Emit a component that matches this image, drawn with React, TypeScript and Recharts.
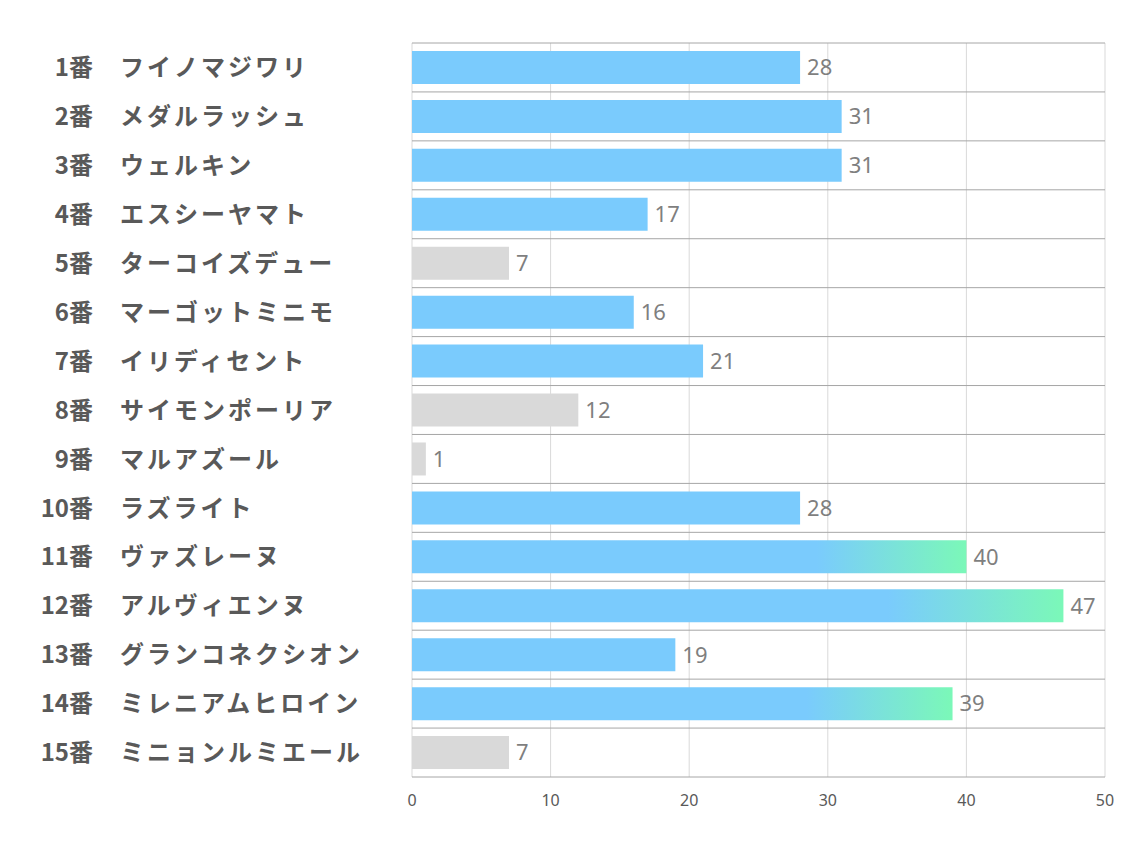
import { BarChart, Bar, XAxis, YAxis, CartesianGrid, Cell, LabelList } from "recharts";

const horseNos = [1, 2, 3, 4, 5, 6, 7, 8, 9, 10, 11, 12, 13, 14, 15];
const horseNames = [
  "フイノマジワリ",
  "メダルラッシュ",
  "ウェルキン",
  "エスシーヤマト",
  "ターコイズデュー",
  "マーゴットミニモ",
  "イリディセント",
  "サイモンポーリア",
  "マルアズール",
  "ラズライト",
  "ヴァズレーヌ",
  "アルヴィエンヌ",
  "グランコネクシオン",
  "ミレニアムヒロイン",
  "ミニョンルミエール",
];
const scores = [28, 31, 31, 17, 7, 16, 21, 12, 1, 28, 40, 47, 19, 39, 7];
const xTicks = [0, 10, 20, 30, 40, 50];

const data = horseNames.map((name, i) => ({ name, no: horseNos[i], score: scores[i] }));

const top3 = [...scores].sort((a, b) => b - a)[2];

const BLUE = "#7ACBFD";
const GRAY = "#D9D9D9";

function barFill(v: number) {
  if (v >= top3) return "url(#hot)";
  if (v <= 12) return GRAY;
  return BLUE;
}

// separator lines sit on the band edges of the category axis
const rowEdges = ({ yAxis }: any) => {
  try {
    const s = yAxis?.scale;
    if (!s) return [];
    const at = (v: string) => (typeof s === "function" ? s(v) : s.map(v));
    const bw = typeof s.bandwidth === "function" ? s.bandwidth() : s.bandwidth;
    const starts = horseNames.map((n) => at(n));
    if (starts.some((v) => typeof v !== "number" || isNaN(v)) || !bw) return [];
    return [...starts, starts[starts.length - 1] + bw];
  } catch (e) {
    return [];
  }
};

const NameTick = (props: any) => {
  const { y, payload, index } = props;
  const common = {
    fill: "#595959",
    fontSize: 24,
    fontWeight: 700,
    fontFamily: "'Noto Sans CJK JP', sans-serif",
  };
  return (
    <g>
      <text x={85} y={y} dy="0.36em" textAnchor="end" {...common}>
        {data[index]?.no}番
      </text>
      <text x={112} y={y} dy="0.36em" textAnchor="start" letterSpacing={3} {...common}>
        {payload.value}
      </text>
    </g>
  );
};

export default function App() {
  return (
    <div style={{ background: "#fff" }}>
      <BarChart
        width={1126}
        height={834}
        data={data}
        layout="vertical"
        margin={{ top: 35, right: 29, bottom: 25, left: 0 }}
      >
        <defs>
          <linearGradient id="hot" x1="0" y1="0" x2="1" y2="0">
            <stop offset="0%" stopColor={BLUE} />
            <stop offset="73%" stopColor={BLUE} />
            <stop offset="100%" stopColor="#7BF8B8" />
          </linearGradient>
        </defs>
        <CartesianGrid horizontal={false} stroke="#D9D9D9" />
        <CartesianGrid vertical={false} horizontalCoordinatesGenerator={rowEdges} stroke="#A6A6A6" />
        <XAxis
          type="number"
          domain={[0, 50]}
          ticks={xTicks}
          axisLine={false}
          tickLine={false}
          tickSize={6}
          tickMargin={12}
          height={40}
          tick={{ fill: "#595959", fontSize: 16, fontFamily: "'Noto Sans', sans-serif" }}
        />
        <YAxis
          type="category"
          dataKey="name"
          width={404}
          axisLine={false}
          tickLine={false}
          interval={0}
          tick={<NameTick />}
        />
        <Bar dataKey="score" barSize={33} isAnimationActive={false}>
          {data.map((d, i) => (
            <Cell key={i} fill={barFill(d.score)} />
          ))}
          <LabelList
            dataKey="score"
            position="right"
            offset={7}
            fill="#7F7F7F"
            fontSize={22}
            fontFamily="'Noto Sans', sans-serif"
          />
        </Bar>
      </BarChart>
    </div>
  );
}
